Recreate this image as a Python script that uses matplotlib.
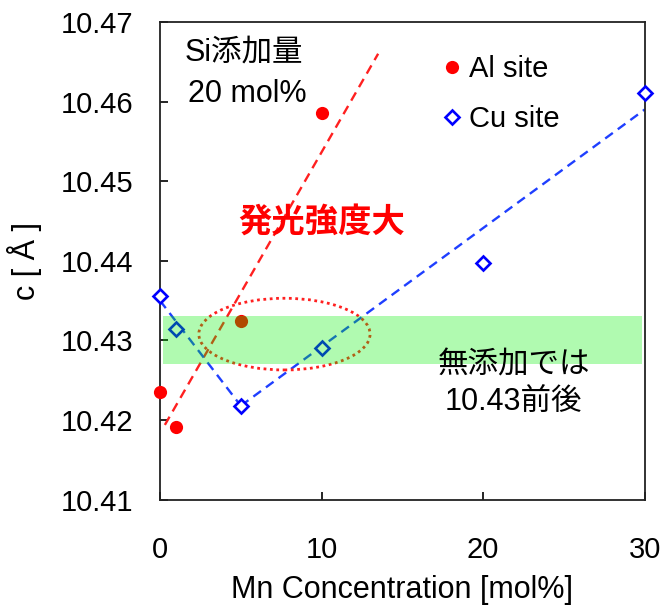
import numpy as np
import matplotlib
matplotlib.use("Agg")
import matplotlib.pyplot as plt
from matplotlib.patches import Ellipse

plt.rcParams['font.family'] = ['Liberation Sans', 'Noto Sans CJK JP', 'DejaVu Sans']

# Mn濃度ごとの格子定数 c (Si 20 mol%)
al_mn = [0, 1, 5, 10]
al_c = [10.4235, 10.4191, 10.4325, 10.4585]
cu_mn = [0, 1, 5, 10, 20, 30]
cu_c = [10.4356, 10.4314, 10.4218, 10.4291, 10.4397, 10.4611]

# 近似直線 (破線)
al_fit_x = [0.3, 13.5]
al_fit_y = [10.4194, 10.4660]
cu_fit1_x = [0, 5]
cu_fit1_y = [10.4350, 10.4218]
cu_fit2_x = [5, 30]
cu_fit2_y = [10.4218, 10.4590]

# 無添加の範囲 (10.43前後)
band_lo, band_hi = 10.4271, 10.4331
band_x = [0.2, 29.8]

xticks = [0, 10, 20, 30]
yticks = [10.41, 10.42, 10.43, 10.44, 10.45, 10.46, 10.47]

fig = plt.figure(figsize=(6.64, 6.08), dpi=100)
ax = fig.add_axes([0.241, 0.178, 0.730, 0.786])

ax.plot(al_fit_x, al_fit_y, color='#ff2020', lw=1.7, ls=(0, (4, 2.6)), zorder=2)
ax.plot(cu_fit1_x, cu_fit1_y, color='#1f3fff', lw=1.7, ls=(0, (4, 2.6)), zorder=2)
ax.plot(cu_fit2_x, cu_fit2_y, color='#1f3fff', lw=1.7, ls=(0, (4, 2.6)), zorder=2)

ax.plot(al_mn, al_c, 'o', color='#ff0000', ms=9.5, mec='none', zorder=3,
        clip_on=False, label='Al site')
ax.plot(cu_mn, cu_c, 'D', mfc='white', mec='#0000ff', mew=1.9, ms=7.5,
        zorder=3, clip_on=False, label='Cu site')

ax.add_patch(Ellipse((7.7, 10.4308), 10.6, 0.0090, fill=False,
                     ec='#ff2020', lw=2, ls=(0, (1, 1.3)), zorder=3))

# 緑の帯は半透明で上に重ねる
ax.fill_between(band_x, band_lo, band_hi, color=(0.0, 0.94, 0.0),
                alpha=0.31, lw=0, zorder=4)

ax.text(5.2, 10.4662, 'Si添加量', fontsize=22, ha='center', va='center', zorder=5)
ax.text(5.4, 10.4610, '20 mol%', fontsize=22, ha='center', va='center', zorder=5)
ax.text(10.0, 10.4448, '発光強度大', fontsize=24, fontweight='bold',
        color='#ff0000', ha='center', va='center', zorder=5)
ax.text(21.9, 10.4245, '無添加では\n10.43前後', fontsize=22, ha='center',
        va='center', linespacing=1.3, zorder=5)

ax.legend(loc='upper left', bbox_to_anchor=(0.56, 0.955), frameon=False,
          fontsize=21, handlelength=0.6, handletextpad=0.3,
          labelspacing=0.75, borderaxespad=0)

ax.set_xlim(0, 30)
ax.set_ylim(10.41, 10.47)
ax.set_xticks(xticks)
ax.set_yticks(yticks)
ax.set_xticklabels([str(t) for t in xticks])
ax.set_yticklabels([f'{t:.2f}' for t in yticks])
ax.tick_params(axis='both', direction='in', length=6, width=1.2,
               labelsize=21, top=False, right=False)
ax.tick_params(axis='y', pad=19)
ax.tick_params(axis='x', pad=26)
for s in ax.spines.values():
    s.set_linewidth(1.3)
    s.set_color('#222222')

ax.set_xlabel('Mn Concentration [mol%]', fontsize=22, labelpad=8)
ax.set_ylabel('c [ Å ]', fontsize=22, labelpad=14)

fig.savefig('out.png', dpi=100)
